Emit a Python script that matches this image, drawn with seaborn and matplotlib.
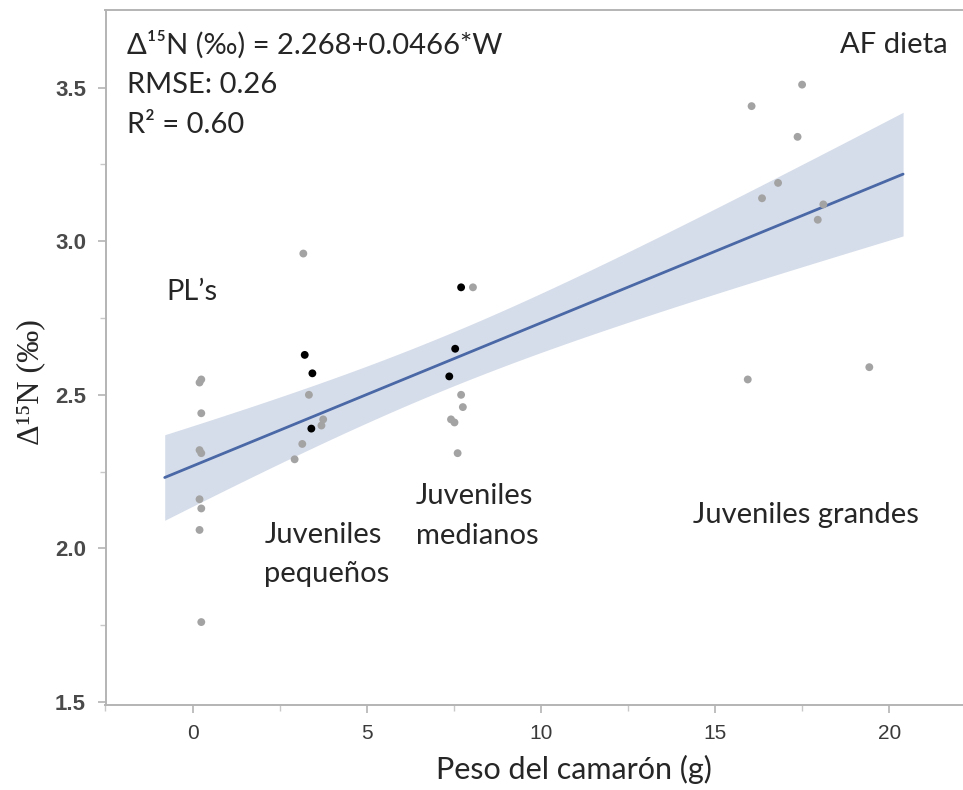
import numpy as np
import pandas as pd
import seaborn as sns
import matplotlib
matplotlib.use('Agg')
import matplotlib.pyplot as plt

# gray points (all samples)
gris_x = [0.25, 0.2, 0.25, 0.2, 0.25, 0.2, 0.25, 0.2, 0.25,
          3.18, 3.34, 3.70, 3.75, 3.15, 2.93,
          8.05, 7.71, 7.76, 7.42, 7.52, 7.61,
          17.50, 16.05, 17.37, 16.81, 16.35, 17.95, 18.11, 15.94, 19.43]
gris_y = [2.55, 2.54, 2.44, 2.32, 2.31, 2.16, 2.13, 2.06, 1.76,
          2.96, 2.50, 2.40, 2.42, 2.34, 2.29,
          2.85, 2.50, 2.46, 2.42, 2.41, 2.31,
          3.51, 3.44, 3.34, 3.19, 3.14, 3.07, 3.12, 2.55, 2.59]

# black points
negro_x = [3.22, 3.44, 3.41, 7.71, 7.54, 7.37]
negro_y = [2.63, 2.57, 2.39, 2.85, 2.65, 2.56]

# fitted model (from the equation in the chart)
intercepto = 2.268
pendiente = 0.0466
rmse = 0.26
t_crit = 2.03
x_ajuste = [-0.8, 20.4]

df = pd.DataFrame({
    'peso': gris_x + negro_x,
    'd15n': gris_y + negro_y,
    'tipo': ['gris'] * len(gris_x) + ['negro'] * len(negro_x),
})

sns.set_style('ticks')
plt.rcParams['font.family'] = ['Lato', 'DejaVu Sans']

fig = plt.figure(figsize=(9.63, 7.9), dpi=100)
ax = fig.add_axes([105.5 / 963, 85 / 790, (963 - 105.5) / 963, 695 / 790])

# confidence band for the mean
xs = np.linspace(x_ajuste[0], x_ajuste[1], 200)
xall = df['peso'].to_numpy()
n = len(xall)
sxx = ((xall - xall.mean()) ** 2).sum()
yhat = intercepto + pendiente * xs
half = t_crit * rmse * np.sqrt(1 / n + (xs - xall.mean()) ** 2 / sxx)
ax.fill_between(xs, yhat - half, yhat + half, color='#d6ddea', lw=0, zorder=1)
sns.lineplot(x=xs, y=yhat, color='#4a68a6', lw=2, ax=ax, zorder=2)

sns.scatterplot(data=df, x='peso', y='d15n', hue='tipo',
                palette={'gris': '#a3a3a3', 'negro': '#000000'},
                s=32, linewidth=0, legend=False, ax=ax, zorder=3)

ax.set_xlim(-2.45, 22.12)
ax.set_ylim(1.49, 3.753)
ax.set_xticks([0, 5, 10, 15, 20])
ax.set_xticks([-2.5, 2.5, 7.5, 12.5, 17.5], minor=True)
ax.set_yticks([1.5, 2.0, 2.5, 3.0, 3.5])
ax.set_yticks([1.75, 2.25, 2.75, 3.25], minor=True)
ax.set_yticklabels(['1.5', '2.0', '2.5', '3.0', '3.5'])

for s in ['left', 'bottom', 'top']:
    ax.spines[s].set_color('#b4b4b4')
    ax.spines[s].set_linewidth(1.4)
ax.spines['right'].set_visible(False)
ax.tick_params(which='major', length=6, width=1.2, color='#b4b4b4',
               labelcolor='#3a3a3a', pad=8)
ax.tick_params(which='minor', length=4, width=1.0, color='#c8c8c8')
for lab in ax.get_xticklabels():
    lab.set_family('Liberation Sans')
    lab.set_fontsize(15)
for lab in ax.get_yticklabels():
    lab.set_family('Liberation Sans')
    lab.set_fontsize(16)
    lab.set_fontweight('bold')
    lab.set_color('#4a4a4a')

ax.set_xlabel('Peso del camarón (g)', fontsize=22, labelpad=8)
ax.xaxis.set_label_coords(0.546, -0.072)
ax.set_ylabel('Δ¹⁵N (‰)', fontsize=23, family=['Liberation Serif', 'DejaVu Serif'])
ax.yaxis.set_label_coords(-0.07, 0.465)

tfs = 21
ax.text(-1.89, 3.639, 'Δ¹⁵N (‰) = 2.268+0.0466*W', fontsize=tfs, va='center')
ax.text(-1.89, 3.510, 'RMSE: 0.26', fontsize=tfs, va='center')
ax.text(-1.89, 3.380, 'R² = 0.60', fontsize=tfs, va='center')
ax.text(21.69, 3.639, 'AF dieta', fontsize=tfs, va='center', ha='right')
ax.text(-0.745, 2.835, 'PL’s', fontsize=tfs, va='center')
ax.text(2.06, 2.045, 'Juveniles', fontsize=tfs, va='center')
ax.text(2.06, 1.915, 'pequeños', fontsize=tfs, va='center')
ax.text(6.42, 2.171, 'Juveniles', fontsize=tfs, va='center')
ax.text(6.42, 2.041, 'medianos', fontsize=tfs, va='center')
ax.text(14.38, 2.109, 'Juveniles grandes', fontsize=tfs, va='center')

fig.savefig('out.png', dpi=100)
